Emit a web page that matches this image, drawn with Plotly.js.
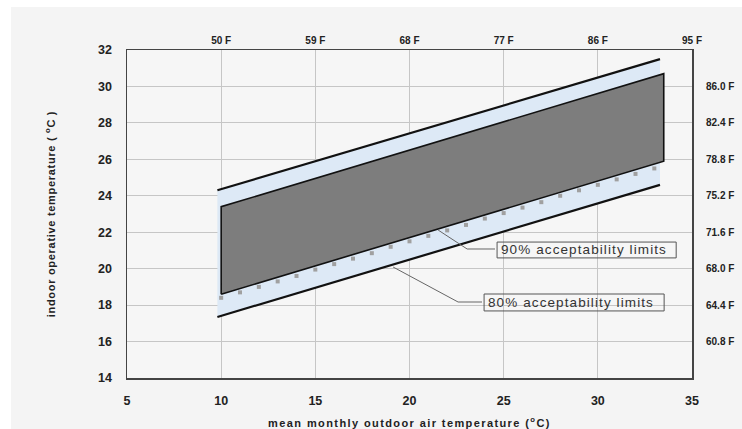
<!DOCTYPE html>
<html>
<head>
<meta charset="utf-8">
<script src="https://cdn.plot.ly/plotly-3.0.1.min.js"></script>
<style>
  html, body { margin: 0; padding: 0; background: #ffffff; }
  #chart { position: absolute; left: 11px; top: 7px; width: 731px; height: 422px; }
  .xtitle { letter-spacing: 1.4px; }
  .ytitle { letter-spacing: 0.7px; }
  .annotation-text { letter-spacing: 1.1px; }
</style>
</head>
<body>
<div id="chart"></div>
<script>
// ---- data ----
const x80 = [9.8, 33.3];          // mean monthly outdoor air temperature (°C)
const upper80 = [24.3, 31.5];     // 80% acceptability upper limit (°C)
const lower80 = [17.35, 24.6];    // 80% acceptability lower limit (°C)
const x90 = [10, 33.5];
const upper90 = [23.4, 30.7];     // 90% acceptability upper limit (°C)
const lower90 = [18.6, 25.9];     // 90% acceptability lower limit (°C)
const dotX = [10, 11, 12, 13, 14, 15, 16, 17, 18, 19, 20, 21, 22, 23, 24, 25, 26, 27, 28, 29, 30, 31, 32, 33];
const dotY = [18.4, 18.7, 19.0, 19.3, 19.6, 19.95, 20.25, 20.55, 20.85, 21.2, 21.5, 21.8, 22.1, 22.4, 22.75, 23.05, 23.35, 23.65, 24.0, 24.3, 24.6, 24.9, 25.2, 25.5];
const leftTicks = [14, 16, 18, 20, 22, 24, 26, 28, 30, 32];
const bottomTicks = [5, 10, 15, 20, 25, 30, 35];
const topTickVals = [10, 15, 20, 25, 30, 35];
const topTickText = ['50 F', '59 F', '68 F', '77 F', '86 F', '95 F'];
const rightTickVals = [16, 18, 20, 22, 24, 26, 28, 30];
const rightTickText = ['60.8 F', '64.4 F', '68.0 F', '71.6 F', '75.2 F', '78.8 F', '82.4 F', '86.0 F'];
// annotation geometry (data coordinates)
const lead90X = [21.52, 23.06, 24.54];
const lead90Y = [22.12, 21.08, 21.08];
const box90 = {x0: 24.65, x1: 34.16, y0: 20.59, y1: 21.46};
const lead80X = [19.13, 22.58, 23.85];
const lead80Y = [20.09, 18.17, 18.17];
const box80 = {x0: 23.96, x1: 33.52, y0: 17.68, y1: 18.61};

const font = 'Liberation Sans, Arial, sans-serif';

const traces = [
  { // 80% band
    x: x80.concat(x80.slice().reverse()),
    y: lower80.concat(upper80.slice().reverse()),
    fill: 'toself', fillcolor: '#dde9f6', mode: 'lines',
    line: {width: 0}, hoverinfo: 'skip', showlegend: false
  },
  { // 90% band
    x: [x90[0], x90[1], x90[1], x90[0], x90[0]],
    y: [lower90[0], lower90[1], upper90[1], upper90[0], lower90[0]],
    fill: 'toself', fillcolor: '#7d7d7d', mode: 'lines',
    line: {color: '#111111', width: 1.6}, hoverinfo: 'skip', showlegend: false
  },
  { // dotted markers
    x: dotX, y: dotY, mode: 'markers',
    marker: {symbol: 'square', size: 4, color: '#a0a0a0'},
    hoverinfo: 'skip', showlegend: false
  },
  { x: x80, y: upper80, mode: 'lines', line: {color: '#111111', width: 2.2}, showlegend: false },
  { x: x80, y: lower80, mode: 'lines', line: {color: '#111111', width: 2.2}, showlegend: false },
  { // anchor for secondary axes
    x: [5, 35], y: [14, 32], xaxis: 'x2', yaxis: 'y2', mode: 'markers',
    marker: {opacity: 0}, hoverinfo: 'skip', showlegend: false
  }
];

const shapes = [
  {type: 'path', xref: 'x', yref: 'y',
   path: 'M' + lead90X[0] + ',' + lead90Y[0] + ' L' + lead90X[1] + ',' + lead90Y[1] + ' L' + lead90X[2] + ',' + lead90Y[2],
   line: {color: '#666666', width: 1}},
  {type: 'rect', xref: 'x', yref: 'y', x0: box90.x0, x1: box90.x1, y0: box90.y0, y1: box90.y1,
   line: {color: '#555555', width: 1}, fillcolor: 'rgba(0,0,0,0)'},
  {type: 'path', xref: 'x', yref: 'y',
   path: 'M' + lead80X[0] + ',' + lead80Y[0] + ' L' + lead80X[1] + ',' + lead80Y[1] + ' L' + lead80X[2] + ',' + lead80Y[2],
   line: {color: '#666666', width: 1}},
  {type: 'rect', xref: 'x', yref: 'y', x0: box80.x0, x1: box80.x1, y0: box80.y0, y1: box80.y1,
   line: {color: '#555555', width: 1}, fillcolor: 'rgba(0,0,0,0)'}
];

const annotations = [
  {x: box90.x0 + 0.08, y: (box90.y0 + box90.y1) / 2, xref: 'x', yref: 'y', xanchor: 'left', yanchor: 'middle',
   text: '90% acceptability limits', showarrow: false, font: {family: font, size: 13.5, color: '#333333'}},
  {x: box80.x0 + 0.08, y: (box80.y0 + box80.y1) / 2, xref: 'x', yref: 'y', xanchor: 'left', yanchor: 'middle',
   text: '80% acceptability limits', showarrow: false, font: {family: font, size: 13.5, color: '#333333'}}
];

const layout = {
  width: 731, height: 422,
  margin: {l: 116, r: 50, t: 43, b: 51, pad: 0},
  paper_bgcolor: '#f4f4f4', plot_bgcolor: '#f6f6f6',
  font: {family: font, color: '#222222'},
  showlegend: false,
  xaxis: {
    range: [5, 35], tickvals: bottomTicks, showgrid: true, gridcolor: '#c6c6c6', gridwidth: 1,
    zeroline: false, showline: true, mirror: true, linecolor: '#444444', linewidth: 1.5,
    ticks: 'outside', ticklen: 0, ticklabelstandoff: 10,
    tickfont: {family: font, size: 12.5, color: '#222222', weight: 'bold'},
    title: {text: 'mean monthly outdoor air temperature (<sup>o</sup>C)', standoff: 13,
            font: {family: font, size: 11, color: '#222222', weight: 'bold'}}
  },
  yaxis: {
    range: [14, 32], tickvals: leftTicks, showgrid: true, gridcolor: '#c6c6c6', gridwidth: 1,
    zeroline: false, showline: true, mirror: true, linecolor: '#444444', linewidth: 1.5,
    ticks: 'outside', ticklen: 0, ticklabelstandoff: 11,
    tickfont: {family: font, size: 12.5, color: '#222222', weight: 'bold'},
    title: {text: 'indoor operative temperature ( <sup>o</sup>C )', standoff: 40,
            font: {family: font, size: 11, color: '#222222', weight: 'bold'}}
  },
  xaxis2: {
    overlaying: 'x', side: 'top', anchor: 'y', range: [5, 35], tickvals: topTickVals, ticktext: topTickText,
    showgrid: false, zeroline: false, showline: false, ticks: 'outside', ticklen: 0, ticklabelstandoff: 1,
    tickfont: {family: font, size: 10, color: '#222222', weight: 'bold'}
  },
  yaxis2: {
    overlaying: 'y', side: 'right', anchor: 'x', range: [14, 32], tickvals: rightTickVals, ticktext: rightTickText,
    showgrid: false, zeroline: false, showline: false, ticks: 'outside', ticklen: 0, ticklabelstandoff: 11,
    tickfont: {family: font, size: 10, color: '#222222', weight: 'bold'}
  },
  shapes: shapes,
  annotations: annotations
};

Plotly.newPlot('chart', traces, layout, {displayModeBar: false, staticPlot: true});
</script>
</body>
</html>
